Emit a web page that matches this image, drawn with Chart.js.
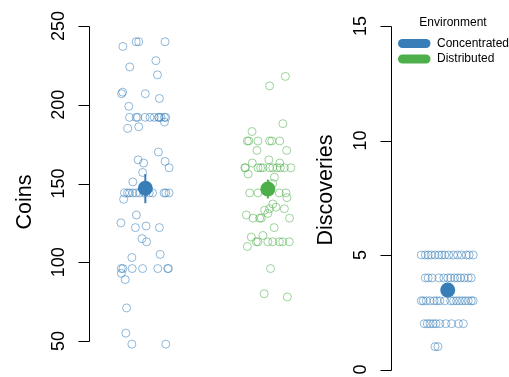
<!DOCTYPE html>
<html>
<head>
<meta charset="utf-8">
<script src="https://cdn.jsdelivr.net/npm/chart.js@4/dist/chart.umd.min.js"></script>
<style>
  html, body { margin: 0; padding: 0; background: #ffffff; }
  #wrap { position: relative; width: 509px; height: 377px; overflow: hidden; background: #fff; }
  #coins { position: absolute; left: 0; top: 0; }
  #disc  { position: absolute; left: 305px; top: 0; }
</style>
</head>
<body>
<div id="wrap">
  <canvas id="coins" width="305" height="377"></canvas>
  <canvas id="disc" width="204" height="377"></canvas>
</div>
<script>
// ---- data ---------------------------------------------------------------
const environments = ['Concentrated', 'Distributed'];

// Coins collected per player, Concentrated environment
const coinsConcentrated = [
  237, 240, 240, 240, 224, 228, 219, 207, 208, 207, 204, 199,
  192, 192, 192, 192, 192, 192, 192, 192, 192, 192, 192,
  189, 185, 186, 170, 165, 163, 164, 160, 157, 151,
  144, 144, 144, 144, 144, 144, 144, 144, 144, 144, 144, 144,
  140, 130, 125, 122, 123, 122, 115, 113, 103, 105,
  96, 96, 96, 96, 96, 96, 96,
  93, 89, 71, 55, 48, 48
];
// horizontal jitter (category units) of each Concentrated point
const coinsConcentratedJitter = [
  -0.183, -0.075, -0.054, 0.161, -0.127, 0.086, 0.099, -0.194, -0.185, 0.000, 0.115, -0.135,
  -0.129, -0.075, -0.062, -0.002, 0.038, 0.073, 0.107, 0.113, 0.127, 0.156, 0.167,
  0.156, -0.143, -0.054, 0.107, -0.059, -0.014, 0.161, 0.194, -0.022, -0.102,
  -0.169, -0.143, -0.129, -0.102, -0.075, -0.048, -0.008, 0.032, 0.059, 0.153, 0.167, 0.194,
  -0.177, -0.073, -0.199, -0.081, 0.006, 0.115, -0.027, 0.010, -0.110, 0.121,
  -0.196, -0.183, -0.107, -0.022, 0.102, 0.183, 0.188,
  -0.196, -0.164, -0.153, -0.159, -0.110, 0.167
];

// Coins collected per player, Distributed environment
const coinsDistributed = [
  218, 212, 188, 183,
  177, 177, 177, 177, 177, 177,
  171, 171, 165, 163, 163,
  160, 160, 160, 160, 160, 160, 160, 160, 160, 160, 160,
  156, 154, 150,
  144, 144, 144, 144, 141,
  137, 134, 135, 133, 134, 131, 130,
  128, 128, 128, 128, 122, 116, 117, 110,
  113, 113, 113, 113, 113, 113, 113,
  96, 80, 78
];
const coinsDistributedJitter = [
  0.143, 0.014, 0.123, -0.129,
  -0.167, -0.156, -0.081, 0.014, 0.032, 0.097,
  -0.089, 0.153, 0.008, -0.127, 0.097,
  -0.188, -0.183, -0.081, -0.059, -0.040, 0.014, 0.040, 0.075, 0.102, 0.135, 0.188,
  -0.161, 0.054, 0.040,
  -0.148, -0.081, 0.094, 0.148, 0.156,
  0.040, 0.014, 0.067, -0.027, 0.135, 0.000, -0.175,
  -0.121, -0.067, -0.054, 0.177, 0.051, -0.135, -0.040, -0.167,
  -0.094, -0.081, 0.000, 0.040, 0.094, 0.121, 0.175,
  0.022, -0.030, 0.159
];

// Discoveries per player (Concentrated only)
const discoveries = [
  5, 5, 5, 5, 5, 5, 5, 5, 5, 5, 5, 5, 5, 5, 5,
  4, 4, 4, 4, 4, 4, 4, 4, 4, 4, 4, 4, 4,
  3, 3, 3, 3, 3, 3, 3, 3, 3, 3, 3, 3, 3, 3, 3, 3, 3,
  2, 2, 2, 2, 2, 2, 2, 2, 2, 2,
  1, 1
];
const discoveriesJitter = [
  -0.218, -0.185, -0.161, -0.137, -0.105, -0.073, -0.048, -0.024, 0.008, 0.048, 0.081, 0.113, 0.153, 0.177, 0.210,
  -0.185, -0.161, -0.129, -0.073, -0.032, 0.000, 0.024, 0.056, 0.081, 0.105, 0.137, 0.169, 0.194,
  -0.218, -0.202, -0.177, -0.145, -0.113, -0.089, -0.065, -0.024, 0.024, 0.048, 0.073, 0.097, 0.121, 0.145, 0.169, 0.194, 0.210,
  -0.194, -0.169, -0.145, -0.121, -0.097, -0.065, -0.016, 0.032, 0.089, 0.129,
  -0.105, -0.081
];

// group means with their error-bar limits
const coinsMean  = [147, 146.5];
const coinsLow   = [137.5, 140.5];
const coinsHigh  = [156, 152.5];
const discMean = [3.47];
const discLow  = [3.25];
const discHigh = [3.70];

// axis ticks
const coinTicks = [50, 100, 150, 200, 250];
const discTicks = [0, 5, 10, 15];

// ---- styling ------------------------------------------------------------
const BLUE = '#377EB8';
const GREEN = '#4DAF4A';
const BLUE_PT = 'rgba(55,126,184,0.55)';
const GREEN_PT = 'rgba(77,175,74,0.55)';
const FONT = '"Liberation Sans", Arial, Helvetica, sans-serif';

const jittered = (vals, jit, pos) => vals.map((v, i) => ({ x: pos + jit[i], y: v }));

// R-style axis: line between first and last tick, outward ticks, rotated labels
const rAxis = {
  id: 'rAxis',
  afterDraw(chart, args, o) {
    const ctx = chart.ctx;
    const ys = chart.scales.y;
    const ax = Math.round(chart.chartArea.left) + 0.5;
    const t = o.ticks;
    ctx.save();
    ctx.strokeStyle = '#000';
    ctx.lineWidth = 1;
    ctx.beginPath();
    ctx.moveTo(ax, Math.round(ys.getPixelForValue(t[t.length - 1])) + 0.5);
    ctx.lineTo(ax, Math.round(ys.getPixelForValue(t[0])) + 0.5);
    t.forEach(v => {
      const p = Math.round(ys.getPixelForValue(v)) + 0.5;
      ctx.moveTo(ax, p);
      ctx.lineTo(ax - 11, p);
    });
    ctx.stroke();
    ctx.fillStyle = '#000';
    ctx.textAlign = 'center';
    ctx.textBaseline = 'alphabetic';
    ctx.font = '18px ' + FONT;
    t.forEach(v => {
      ctx.save();
      ctx.translate(ax - 25.5, ys.getPixelForValue(v));
      ctx.rotate(-Math.PI / 2);
      ctx.fillText(String(v), 0, 0);
      ctx.restore();
    });
    ctx.font = '21.5px ' + FONT;
    ctx.save();
    ctx.translate(o.titleX, o.titleY);
    ctx.rotate(-Math.PI / 2);
    ctx.fillText(o.title, 0, 0);
    ctx.restore();
    ctx.restore();
  }
};

// legend drawn as thick rounded keys
const envLegend = {
  id: 'envLegend',
  afterDraw(chart, args, o) {
    if (!o.show) return;
    const ctx = chart.ctx;
    ctx.save();
    ctx.fillStyle = '#000';
    ctx.font = '12px ' + FONT;
    ctx.textAlign = 'center';
    ctx.textBaseline = 'middle';
    ctx.fillText('Environment', o.x + 55, o.y);
    const colors = [BLUE, GREEN];
    environments.forEach((name, i) => {
      const yy = o.y + 20.5 + i * 15.5;
      ctx.strokeStyle = colors[i];
      ctx.lineWidth = 9;
      ctx.lineCap = 'round';
      ctx.beginPath();
      ctx.moveTo(o.x + 4.5, yy);
      ctx.lineTo(o.x + 28, yy);
      ctx.stroke();
      ctx.fillStyle = '#000';
      ctx.textAlign = 'left';
      ctx.fillText(name, o.x + 39, yy);
    });
    ctx.restore();
  }
};

Chart.register(rAxis, envLegend);

const baseOptions = (xmin, xmax, ymin, ymax, padding, axisOpts, legendOpts) => ({
  responsive: false,
  devicePixelRatio: 1,
  animation: false,
  layout: { padding },
  scales: {
    x: { type: 'linear', min: xmin, max: xmax, display: false },
    y: { type: 'linear', min: ymin, max: ymax, display: false }
  },
  plugins: {
    legend: { display: false },
    tooltip: { enabled: false },
    rAxis: axisOpts,
    envLegend: legendOpts
  },
  events: []
});

const meanSet = (means, colors) => ({
  data: means.map((m, i) => ({ x: i + 1, y: m })),
  pointRadius: 7.5,
  pointBackgroundColor: colors,
  pointBorderWidth: 0,
  clip: false
});
const barSet = (pos, lo, hi, color) => ({
  data: [{ x: pos, y: lo }, { x: pos, y: hi }],
  showLine: true,
  borderColor: color,
  borderWidth: 2,
  pointRadius: 0,
  clip: false
});
const pointSet = (pts, color) => ({
  data: pts,
  pointRadius: 4,
  pointBorderWidth: 1,
  pointBorderColor: color,
  pointBackgroundColor: 'rgba(0,0,0,0)',
  clip: false
});

// Coins panel
new Chart(document.getElementById('coins'), {
  type: 'scatter',
  data: {
    datasets: [
      meanSet(coinsMean, [BLUE, GREEN]),
      barSet(1, coinsLow[0], coinsHigh[0], BLUE),
      barSet(2, coinsLow[1], coinsHigh[1], GREEN),
      pointSet(jittered(coinsConcentrated, coinsConcentratedJitter, 1), BLUE_PT),
      pointSet(jittered(coinsDistributed, coinsDistributedJitter, 2), GREEN_PT)
    ]
  },
  options: baseOptions(0.5403, 2.242, 50, 250,
    { left: 89, right: 5, top: 26, bottom: 36 },
    { ticks: coinTicks, title: 'Coins', titleX: 31, titleY: 202 },
    { show: false })
});

// Discoveries panel
new Chart(document.getElementById('disc'), {
  type: 'scatter',
  data: {
    datasets: [
      meanSet(discMean, [BLUE]),
      barSet(1, discLow[0], discHigh[0], BLUE),
      pointSet(jittered(discoveries, discoveriesJitter, 1), BLUE_PT)
    ]
  },
  options: baseOptions(0.532, 1.4435, 0, 15,
    { left: 86, right: 5, top: 26, bottom: 4 },
    { ticks: discTicks, title: 'Discoveries', titleX: 27, titleY: 190 },
    { show: true, x: 93, y: 23 })
});
</script>
</body>
</html>
